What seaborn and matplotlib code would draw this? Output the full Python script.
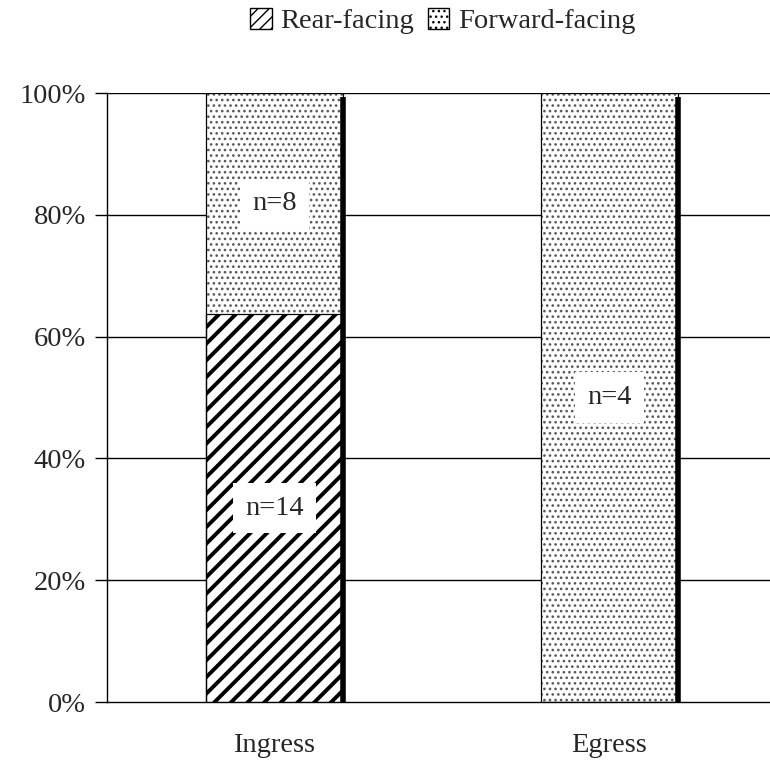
import matplotlib
matplotlib.use("Agg")
import matplotlib.pyplot as plt
from matplotlib.patches import Patch, Rectangle
import pandas as pd
import seaborn as sns

# Counts
categories = ["Ingress", "Egress"]
rear_n = [14, 0]
forward_n = [8, 4]
series = ["Rear-facing", "Forward-facing"]
yticks = [0, 20, 40, 60, 80, 100]

sns.set_style("white")
plt.rcParams["font.family"] = ["Liberation Serif", "DejaVu Serif"]

FS = 20.5
STRIPE = "//"
DOTS = "..."


def hatch_lw(p, lw):
    if hasattr(p, "set_hatch_linewidth"):
        p.set_hatch_linewidth(lw)


totals = [r + f for r, f in zip(rear_n, forward_n)]
df = pd.DataFrame({
    "category": categories,
    "rear": [100 * r / t for r, t in zip(rear_n, totals)],
    "total": [100.0 for _ in totals],
})

fig = plt.figure(figsize=(7.7, 7.6), dpi=100)
ax = fig.add_axes([0.139, 0.0763, 0.87, 0.8013])

# gridlines behind bars
for y in yticks[1:]:
    ax.axhline(y, color="black", lw=1.0, zorder=0)

width = 0.41

# forward-facing (full stack height), dotted in grey
plt.rcParams["hatch.linewidth"] = 1.1
sns.barplot(data=df, x="category", y="total", color="white", width=width,
            edgecolor="0.35", linewidth=0, ax=ax, zorder=2)
fwd = list(ax.patches)
for p in fwd:
    p.set_hatch(DOTS)
    p.set_edgecolor("0.35")
    hatch_lw(p, 1.1)

# rear-facing on top, heavy black stripes
plt.rcParams["hatch.linewidth"] = 2.8
sns.barplot(data=df, x="category", y="rear", color="white", width=width,
            edgecolor="black", linewidth=0, ax=ax, zorder=3)
rear = [p for p in ax.patches if p not in fwd]
for p in rear:
    p.set_hatch(STRIPE)
    p.set_edgecolor("black")
    hatch_lw(p, 2.8)

# thin outlines and the dark shadow on the right edge of each bar
for p in fwd + rear:
    if p.get_height() > 0:
        ax.add_patch(Rectangle((p.get_x(), 0), p.get_width(), p.get_height(),
                               fill=False, edgecolor="black", lw=0.9, zorder=4))
for p in fwd:
    x = p.get_x() + p.get_width()
    ax.plot([x, x], [0, p.get_height() - 0.6], color="black", lw=4,
            solid_capstyle="butt", zorder=4)

# n= labels in white boxes at segment centres
box = dict(facecolor="white", edgecolor="none", pad=9)
for i, (r, f, t) in enumerate(zip(rear_n, forward_n, totals)):
    rp = 100 * r / t
    if r:
        ax.text(i, rp / 2, f"n={r}", ha="center", va="center", fontsize=FS,
                bbox=box, zorder=5)
    if f:
        ax.text(i, rp + (100 - rp) / 2, f"n={f}", ha="center", va="center",
                fontsize=FS, bbox=box, zorder=5)

ax.set_xlim(-0.5, 1.5)
ax.set_ylim(0, 100)
ax.set_yticks(yticks)
ax.set_yticklabels([f"{v}%" for v in yticks], fontsize=FS)
ax.set_xticks(range(len(categories)))
ax.set_xticklabels(categories, fontsize=FS)
ax.tick_params(axis="x", length=0, pad=22)
ax.set_xticks([-0.5, 0.5, 1.5], minor=True)
ax.tick_params(axis="x", which="minor", direction="out", length=10, width=1,
               color="black")
ax.tick_params(axis="y", direction="out", length=9, width=1, color="black",
               left=True, pad=6)
ax.set_xlabel("")
ax.set_ylabel("")
for s in ["top", "right"]:
    ax.spines[s].set_visible(False)
for s in ["left", "bottom"]:
    ax.spines[s].set_color("black")
    ax.spines[s].set_linewidth(1.0)

plt.rcParams["hatch.linewidth"] = 2.0
h_rear = Patch(facecolor="white", edgecolor="black", hatch="///", label=series[0])
hatch_lw(h_rear, 2.0)
plt.rcParams["hatch.linewidth"] = 1.0
h_fwd = Patch(facecolor="white", edgecolor="black", hatch="...", label=series[1])
hatch_lw(h_fwd, 1.0)
fig.legend(handles=[h_rear, h_fwd], loc="center", bbox_to_anchor=(0.575, 0.972),
           ncol=2, frameon=False, fontsize=FS, handlelength=0.75, handleheight=0.75,
           handletextpad=0.3, columnspacing=0.5)

fig.savefig("out.png", dpi=100)
